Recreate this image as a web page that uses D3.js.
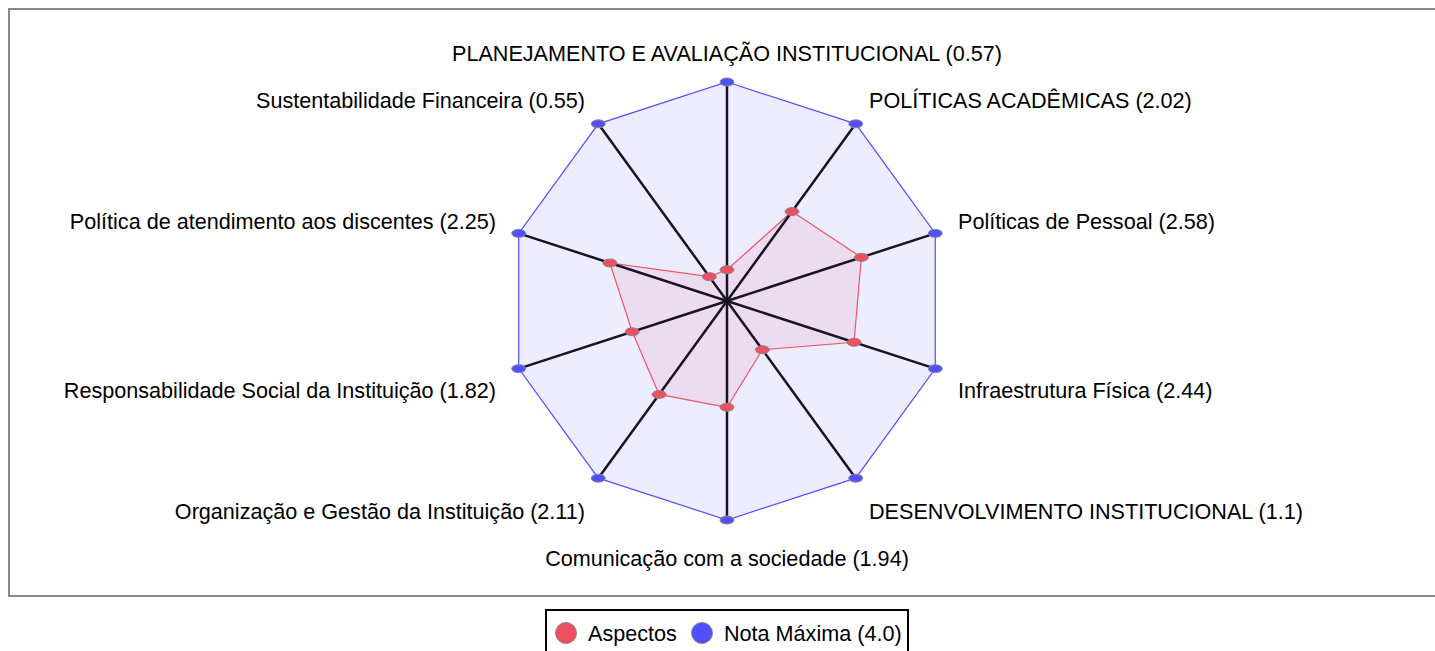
<!DOCTYPE html>
<html><head><meta charset="utf-8">
<script src="https://cdn.jsdelivr.net/npm/d3@7"></script>
<style>
html,body{margin:0;padding:0;background:#fff;overflow:hidden}
svg{display:block;font-family:"Liberation Sans",Arial,sans-serif}
</style></head>
<body>
<svg id="chart" width="1435" height="651"></svg>
<script>
const categories = [
  "PLANEJAMENTO E AVALIAÇÃO INSTITUCIONAL",
  "POLÍTICAS ACADÊMICAS",
  "Políticas de Pessoal",
  "Infraestrutura Física",
  "DESENVOLVIMENTO INSTITUCIONAL",
  "Comunicação com a sociedade",
  "Organização e Gestão da Instituição",
  "Responsabilidade Social da Instituição",
  "Política de atendimento aos discentes",
  "Sustentabilidade Financeira"
];
const aspectos = [0.57, 2.02, 2.58, 2.44, 1.1, 1.94, 2.11, 1.82, 2.25, 0.55];
const notaMaxima = [4, 4, 4, 4, 4, 4, 4, 4, 4, 4];
const seriesNames = ["Aspectos", "Nota Máxima (4.0)"];
const maxValue = 4;

const svg = d3.select("#chart");
const cx = 727, cy = 301, R = 219;
const n = categories.length;
const r = d3.scaleLinear().domain([0, maxValue]).range([0, R]);
const ang = d3.scaleLinear().domain([0, n]).range([0, 2 * Math.PI]);
const pt = (i, v) => [cx + r(v) * Math.sin(ang(i)), cy - r(v) * Math.cos(ang(i))];

// outer frame
svg.append("rect").attr("x", 9).attr("y", 9).attr("width", 1440).attr("height", 587)
  .attr("fill", "none").attr("stroke", "#888").attr("stroke-width", 2);

const line = d3.line();
function poly(vals, fill, fillOp, stroke) {
  svg.append("path")
    .attr("d", line(vals.map((v, i) => pt(i, v))) + "Z")
    .attr("fill", fill).attr("fill-opacity", fillOp)
    .attr("stroke", stroke).attr("stroke-width", 1.2);
}
poly(notaMaxima, "#5050ff", 0.1, "#5050ff");
poly(aspectos, "#f05060", 0.1, "#ee5566");

// axes
svg.append("g").selectAll("line").data(categories).join("line")
  .attr("x1", cx).attr("y1", cy)
  .attr("x2", (d, i) => pt(i, maxValue)[0])
  .attr("y2", (d, i) => pt(i, maxValue)[1])
  .attr("stroke", "#1a1226").attr("stroke-width", 2.5);

function markers(vals, color) {
  svg.append("g").selectAll("ellipse").data(vals).join("ellipse")
    .attr("cx", (v, i) => pt(i, v)[0]).attr("cy", (v, i) => pt(i, v)[1])
    .attr("rx", 7).attr("ry", 4)
    .attr("fill", color).attr("stroke", "#888").attr("stroke-width", 1);
}
markers(aspectos, "#ee5062");
markers(notaMaxima, "#5050ff");

// labels
const Rl = 248;
svg.append("g").selectAll("text").data(categories).join("text")
  .attr("x", (d, i) => {
    const s = Math.sin(ang(i));
    const x = cx + Rl * s;
    if (Math.abs(s) < 0.01) return x;
    const off = 2 + 3 * Math.abs(s);
    return s > 0 ? x - off : x + off;
  })
  .attr("y", (d, i) => {
    const c = Math.cos(ang(i));
    let y = cy - Rl * c;
    if (c < -0.01) y += 13 + 5.8 * (c + 0.309);
    else if (c < 0.5) y -= 3;
    return y;
  })
  .attr("dy", "0.35em")
  .attr("text-anchor", (d, i) => {
    const s = Math.sin(ang(i));
    return Math.abs(s) < 0.01 ? "middle" : (s > 0 ? "start" : "end");
  })
  .attr("font-size", 21.6).attr("fill", "#000")
  .text((d, i) => `${d} (${aspectos[i]})`);

// legend
const lg = svg.append("g");
lg.append("rect").attr("x", 546).attr("y", 610).attr("width", 362).attr("height", 60)
  .attr("fill", "#fff").attr("stroke", "#000").attr("stroke-width", 2);
const legItems = [{name: seriesNames[0], color: "#ee5062", x: 566}, {name: seriesNames[1], color: "#5050ff", x: 702}];
legItems.forEach(it => {
  lg.append("circle").attr("cx", it.x).attr("cy", 633).attr("r", 10.5)
    .attr("fill", it.color).attr("stroke", "#888").attr("stroke-width", 1);
  lg.append("text").attr("x", it.x + 22).attr("y", 633).attr("dy", "0.35em")
    .attr("font-size", 21.6).attr("fill", "#000").text(it.name);
});
</script>
</body></html>
